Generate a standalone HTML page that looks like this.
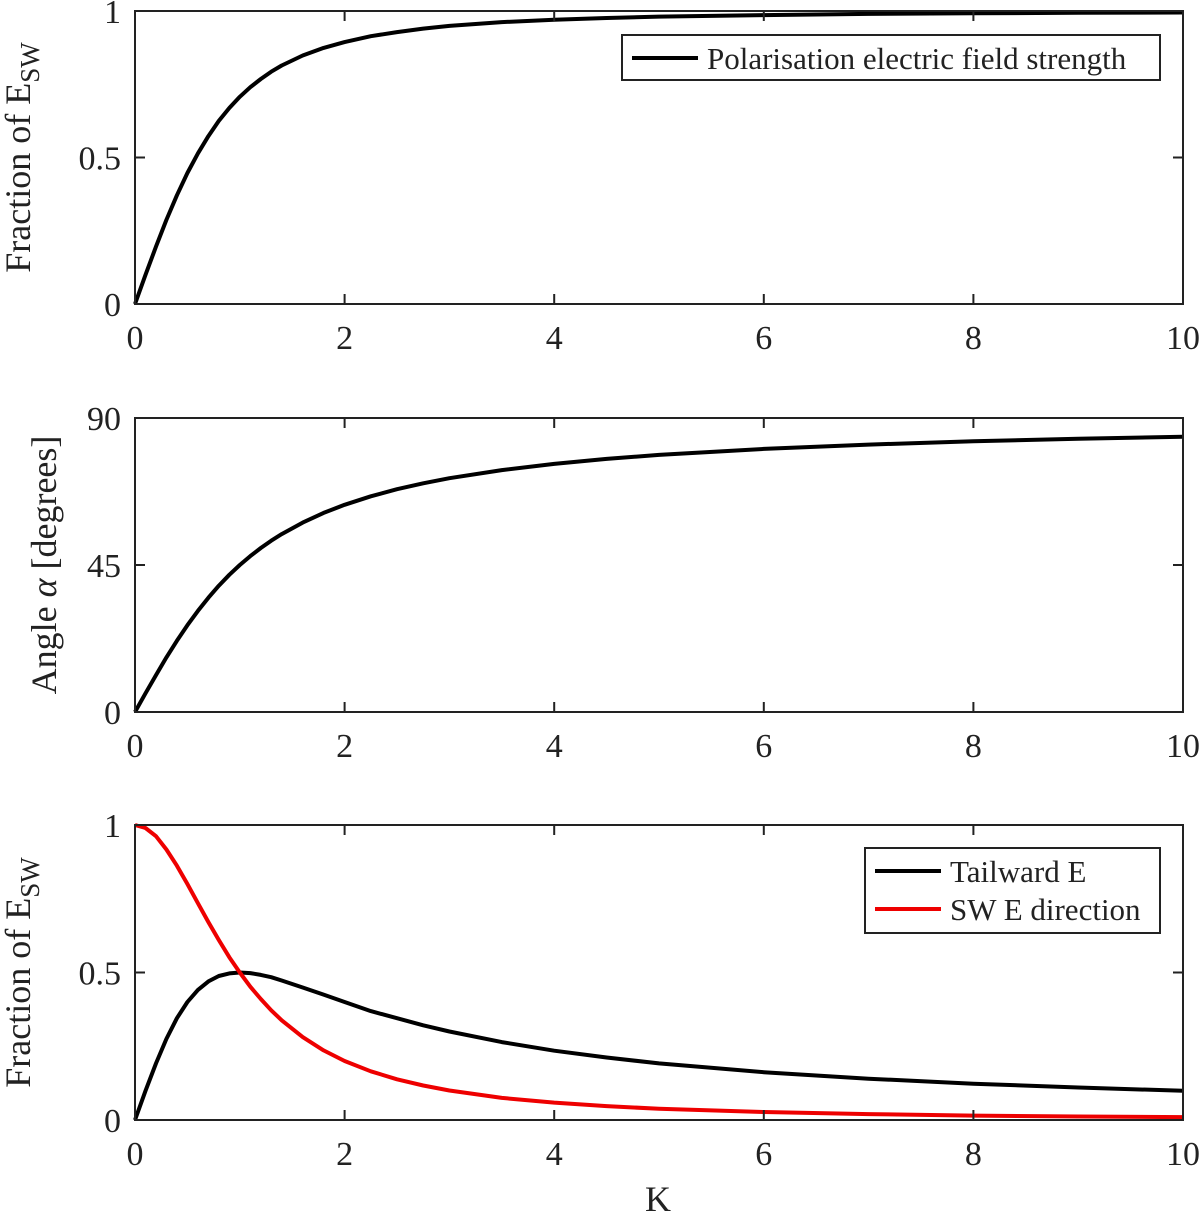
<!DOCTYPE html>
<html><head><meta charset="utf-8"><style>
html,body{margin:0;padding:0;background:#fff;}
svg{display:block;font-family:"Liberation Serif",serif;}
</style></head><body>
<svg id="chart" width="1200" height="1213" xmlns="http://www.w3.org/2000/svg"></svg>
<script>
const kValues=[0,0.1,0.2,0.3,0.4,0.5,0.6,0.7,0.8,0.9,1,1.1,1.2,1.3,1.4,1.6,1.8,2,2.25,2.5,2.75,3,3.5,4,4.5,5,6,7,8,9,10];
const polarisation=[0,0.0995,0.196,0.287,0.371,0.447,0.514,0.573,0.625,0.669,0.707,0.740,0.768,0.793,0.814,0.848,0.874,0.894,0.914,0.928,0.940,0.949,0.962,0.970,0.976,0.981,0.986,0.990,0.992,0.994,0.995];
const angleAlpha=[0,5.71,11.31,16.70,21.80,26.57,30.96,34.99,38.66,41.99,45,47.73,50.19,52.43,54.46,57.99,60.95,63.43,66.04,68.20,70.02,71.57,74.05,75.96,77.47,78.69,80.54,81.87,82.87,83.66,84.29];
const tailward=[0,0.099,0.192,0.275,0.345,0.4,0.441,0.470,0.488,0.497,0.5,0.498,0.492,0.484,0.473,0.449,0.425,0.4,0.369,0.345,0.321,0.3,0.264,0.235,0.212,0.192,0.162,0.14,0.123,0.110,0.099];
const swDirection=[1,0.990,0.962,0.917,0.862,0.8,0.735,0.671,0.610,0.552,0.5,0.452,0.410,0.372,0.338,0.281,0.236,0.2,0.165,0.138,0.117,0.1,0.075,0.059,0.047,0.038,0.027,0.02,0.015,0.012,0.0099];
const xTicks=[0,2,4,6,8,10];
const yTicksFrac=[0,0.5,1];
const yTickFracLabels=["0","0.5","1"];
const yTicksAngle=[0,45,90];

const NS="http://www.w3.org/2000/svg";
const svg=document.getElementById('chart');
function mk(tag,attrs,parent){const e=document.createElementNS(NS,tag);for(const k in attrs)e.setAttribute(k,attrs[k]);(parent||svg).appendChild(e);return e;}
const X0=135,X1=1183;
function xs(v){return X0+(v/10)*(X1-X0);}

function panel(name,top,bot,ymax,yt,ytl,series,ylabel,ylabelX){
  const g=mk('g',{});
  
  
  const ys=v=>bot-(v/ymax)*(bot-top);
  series.forEach(s=>{
    const d=kValues.map((k,i)=>(i?'L':'M')+xs(k).toFixed(1)+','+ys(s.vals[i]).toFixed(1)).join(' ');
    const p=mk('path',{d:d,fill:'none',stroke:s.color,'stroke-width':4,'stroke-linejoin':'round'},g);
    
    
  });
  const box=mk('rect',{x:X0,y:top,width:X1-X0,height:bot-top,fill:'none',stroke:'#222','stroke-width':2},g);
  
  
  xTicks.forEach(t=>{
    mk('line',{x1:xs(t),x2:xs(t),y1:bot,y2:bot-10,stroke:'#222','stroke-width':2},g);
    mk('line',{x1:xs(t),x2:xs(t),y1:top,y2:top+10,stroke:'#222','stroke-width':2},g);
    const tx=mk('text',{x:xs(t),y:bot+45,'font-size':34,'text-anchor':'middle',fill:'#222'},g);
    tx.textContent=t;
    
    
  });
  yt.forEach((t,i)=>{
    mk('line',{x1:X0,x2:X0+10,y1:ys(t),y2:ys(t),stroke:'#222','stroke-width':2},g);
    mk('line',{x1:X1,x2:X1-10,y1:ys(t),y2:ys(t),stroke:'#222','stroke-width':2},g);
    const tx=mk('text',{x:X0-14,y:ys(t)+12,'font-size':34,'text-anchor':'end',fill:'#222'},g);
    tx.textContent=ytl[i];
    
    
  });
  const cy=(top+bot)/2;
  const yl=mk('text',{x:0,y:0,'font-size':36,'text-anchor':'middle',fill:'#222',transform:`translate(${ylabelX},${cy}) rotate(-90)`},g);
  yl.innerHTML=ylabel;
  
  
  return {g,ys};
}

panel('panel-field-strength',11,304,1,yTicksFrac,yTickFracLabels,[{name:'polarisation-line',vals:polarisation,color:'#000'}],'Fraction of E<tspan font-size="27" dy="9">SW</tspan>',30);
panel('panel-angle',418,712,90,yTicksAngle,["0","45","90"],[{name:'angle-line',vals:angleAlpha,color:'#000'}],'Angle <tspan font-style="italic">α</tspan> [degrees]',56);
panel('panel-components',825,1120,1,yTicksFrac,yTickFracLabels,[{name:'tailward-line',vals:tailward,color:'#000'},{name:'sw-direction-line',vals:swDirection,color:'#e00'}],'Fraction of E<tspan font-size="27" dy="9">SW</tspan>',30);

const xl=mk('text',{x:658,y:1211,'font-size':36,'text-anchor':'middle',fill:'#222'});
xl.textContent='K';



function legend(name,x,y,w,h,entries){
  const g=mk('g',{});
  
  
  mk('rect',{x:x,y:y,width:w,height:h,fill:'#fff',stroke:'#222','stroke-width':2},g);
  entries.forEach((e,i)=>{
    const cy=y+23+i*38;
    mk('line',{x1:x+10,x2:x+76,y1:cy,y2:cy,stroke:e.color,'stroke-width':4},g);
    const t=mk('text',{x:x+85,y:cy+11,'font-size':31,fill:'#222'},g);
    t.textContent=e.label;
    
    
  });
}
legend('legend-top',622,35,538,45,[{label:'Polarisation electric field strength',color:'#000'}]);
legend('legend-bottom',865,848,295,85,[{label:'Tailward E',color:'#000'},{label:'SW E direction',color:'#e00'}]);
</script>
</body></html>
